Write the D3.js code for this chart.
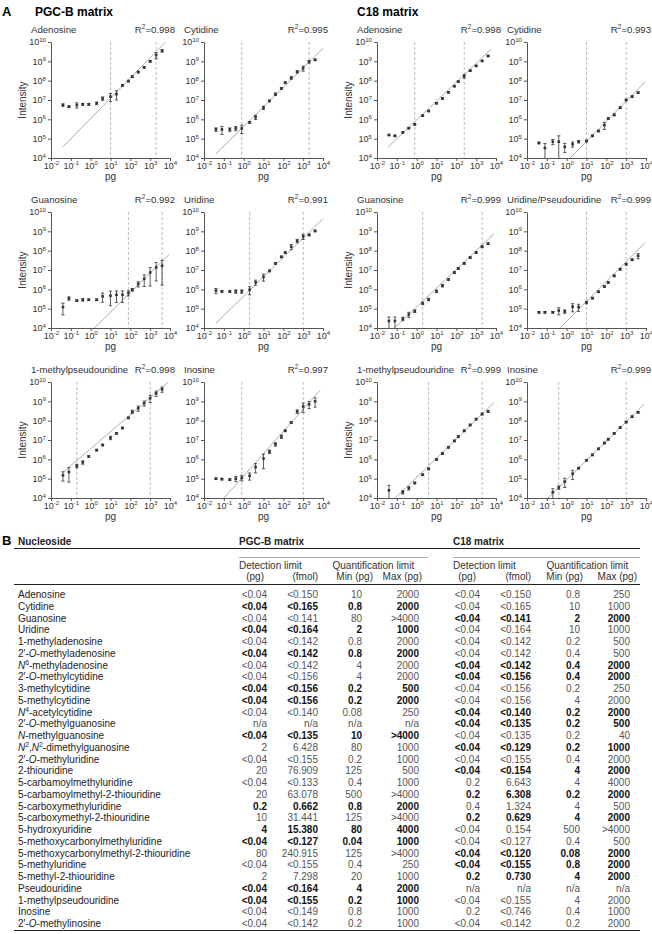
<!DOCTYPE html>
<html>
<head>
<meta charset="utf-8">
<script src="https://cdn.jsdelivr.net/npm/d3@7"></script>
<style>
  body { margin: 0; background: #fff; }
  svg { font-family: "Liberation Sans", Arial, sans-serif; }
</style>
</head>
<body>
<svg id="fig" width="652" height="934"></svg>
<script>
// ---------------- panel A data ----------------
// amount injected on column (pg)
var levels = [0.04, 0.08, 0.2, 0.4, 0.8, 2, 4, 10, 20, 40, 80, 125, 250, 500, 1000, 2000, 4000]

var panelNames = ["Adenosine", "Cytidine", "Adenosine", "Cytidine",
                  "Guanosine", "Uridine", "Guanosine", "Uridine/Pseudouridine",
                  "1-methylpseudouridine", "Inosine", "1-methylpseudouridine", "Inosine"]
var panelR2 = ["0.998", "0.995", "0.998", "0.993", "0.992", "0.991", "0.999", "0.999", "0.998", "0.997", "0.999", "0.999"]
// quantification limits (dashed lines), pg
var quantLimits = [[10, 2000], [0.8, 2000], [0.8, 250], [10, 1000],
                   [80, 4000], [2, 1000], [2, 2000], [10, 1000],
                   [0.2, 1000], [0.8, 1000], [4, 2000], [0.4, 1000]]
// regression line: log10(I) = fitA + fitB * log10(pg)
var fitA = [6.04, 5.63, 5.97, 3.82, 3.81, 5.65, 5.09, 4.35, 6.55, 5.14, 5.07, 4.94]
var fitB = [1.05, 1.01, 0.975, 1.04, 1.01, 1.0, 0.97, 1.03, 0.88, 1.15, 0.99, 1.0]
var fitRange = [[0.04, 7000], [0.04, 10000], [0.036, 5500], [1, 9000],
                [1, 9000], [0.04, 10000], [0.04, 8000], [0.5, 9000],
                [0.04, 8500], [0.04, 7200], [0.04, 8000], [0.04, 8000]]

// mean intensities per level, one array per panel
var intensity = [
  [5.5e6, 4.5e6, 5.5e6, 6e6, 6e6, 6.8e6, 1.2e7, 1.5e7, 2e7, 5.7e7, 9.5e7, 1.6e8, 2.8e8, 4.9e8, 1e9, 2.1e9, 3.5e9],
  [3e5, 3e5, 3e5, 3.4e5, 3.4e5, 7e5, 1.3e6, 4e6, 9e6, 2e7, 4e7, 8e7, 1.4e8, 2.9e8, 4.4e8, 9.5e8, 1.2e9],
  [1.55e5, 1.4e5, 2.1e5, 3.5e5, 5.5e5, 1.55e6, 2.7e6, 6.8e6, 1.2e7, 2.5e7, 5.2e7, 9e7, 1.7e8, 3.3e8, 5.8e8, 1.05e9, 1.9e9],
  [6e4, 3.3e4, 7e4, 7e4, 3.8e4, 5.2e4, 7e4, 7.6e4, 1.4e5, 2.5e5, 5e5, 1.1e6, 1.7e6, 4e6, 1e7, 1.5e7, 2.4e7],
  [1.2e5, 3.4e5, 2.6e5, 2.9e5, 2.9e5, 2.9e5, 4.3e5, 4.7e5, 5.2e5, 5.2e5, 6.5e5, 9.5e5, 1.9e6, 3.5e6, 7.4e6, 1.35e7, 1.65e7],
  [8.5e5, 7.8e5, 7.8e5, 7.8e5, 7.8e5, 9.5e5, 2.3e6, 4.4e6, 9e6, 2.2e7, 4.8e7, 8e7, 1.6e8, 3.2e8, 5.4e8, 6.5e8, 1.05e9],
  [2.3e4, 2.3e4, 3e4, 5e4, 7.4e4, 1.9e5, 3e5, 8e5, 1.55e6, 3.2e6, 7.4e6, 1.2e7, 2.2e7, 4.4e7, 8e7, 1.6e8, 2.3e8],
  [6.5e4, 6.5e4, 6.5e4, 8e4, 7.2e4, 1.25e5, 1.2e5, 2.1e5, 3.5e5, 7.5e5, 1.4e6, 2.3e6, 5e6, 1.1e7, 2e7, 3.4e7, 5.4e7],
  [1.5e5, 2.2e5, 4.5e5, 7e5, 1.4e6, 3e6, 5.5e6, 1.3e7, 2.2e7, 4.2e7, 1.4e8, 2.9e8, 4.4e8, 8e8, 1.45e9, 2.6e9, 4.2e9],
  [1e5, 9.5e4, 9e4, 1e5, 1.1e5, 1.4e5, 4e5, 1.1e6, 2.5e6, 6e6, 1.5e7, 3e7, 8e7, 3e8, 5.4e8, 7e8, 1e9],
  [2.5e4, null, 2e4, 3.2e4, 6e4, 1.6e5, 3.2e5, 1e6, 2e6, 4.2e6, 9e6, 1.5e7, 3e7, 6e7, 1.2e8, 2.2e8, 3e8],
  [null, null, 2e4, 3.5e4, 7e4, 1.8e5, 3.5e5, 9e5, 1.7e6, 3.5e6, 7e6, 1.1e7, 2.2e7, 4.4e7, 8.5e7, 1.6e8, 2.7e8]
]
// relative SD (error bars)
var relSD = [
  [0.15, 0.1, 0.3, 0.12, 0.12, 0.15, 0.2, 0.45, 0.5, 0.1, 0.1, 0.1, 0.1, 0.1, 0.1, 0.35, 0.15],
  [0.2, 0.45, 0.2, 0.25, 0.45, 0.1, 0.25, 0.2, 0.1, 0.15, 0.1, 0.1, 0.15, 0.15, 0.3, 0.15, 0.1],
  [0.08, 0.08, 0.08, 0.08, 0.08, 0.08, 0.08, 0.08, 0.08, 0.08, 0.08, 0.08, 0.2, 0.08, 0.08, 0.08, 0.08],
  [0.1, 0.7, 0.3, 1.0, 0.5, 0.3, 0.15, 0.1, 0.1, 0.1, 0.4, 0.1, 0.1, 0.1, 0.1, 0.1, 0.1],
  [0.6, 0.2, 0.1, 0.15, 0.1, 0.1, 0.5, 0.7, 0.6, 0.6, 0.3, 0.15, 0.3, 0.6, 0.8, 0.8, 0.9],
  [0.3, 0.1, 0.1, 0.2, 0.2, 0.45, 0.3, 0.4, 0.1, 0.1, 0.1, 0.1, 0.3, 0.2, 0.3, 0.1, 0.1],
  [0.6, 0.6, 0.2, 0.3, 0.15, 0.15, 0.15, 0.15, 0.15, 0.1, 0.1, 0.1, 0.1, 0.1, 0.1, 0.1, 0.1],
  [0.1, 0.1, 0.1, 0.4, 0.2, 0.45, 0.4, 0.15, 0.1, 0.1, 0.1, 0.1, 0.1, 0.1, 0.1, 0.1, 0.3],
  [0.5, 0.7, 0.2, 0.2, 0.1, 0.1, 0.1, 0.2, 0.1, 0.1, 0.1, 0.2, 0.3, 0.3, 0.4, 0.3, 0.3],
  [0.1, 0.1, 0.1, 0.3, 0.3, 0.4, 0.5, 0.7, 0.2, 0.2, 0.2, 0.1, 0.1, 0.2, 0.5, 0.4, 0.5],
  [0.8, 0, 0.2, 0.2, 0.1, 0.1, 0.1, 0.1, 0.1, 0.1, 0.1, 0.1, 0.1, 0.1, 0.1, 0.1, 0.1],
  [0, 0, 0.5, 0.2, 0.5, 0.5, 0.1, 0.1, 0.1, 0.1, 0.1, 0.1, 0.1, 0.1, 0.1, 0.1, 0.1]
]
var xTicks = [1e-2, 1e-1, 1e0, 1e1, 1e2, 1e3, 1e4]
var yTicks = [1e4, 1e5, 1e6, 1e7, 1e8, 1e9, 1e10]

// ---------------- panel B data ----------------
var nucleosides = ["Adenosine", "Cytidine", "Guanosine", "Uridine", "1-methyladenosine",
  "2\u2032-<i>O</i>-methyladenosine", "<i>N</i><sup>6</sup>-methyladenosine", "2\u2032-<i>O</i>-methylcytidine",
  "3-methylcytidine", "5-methylcytidine", "<i>N</i><sup>4</sup>-acetylcytidine", "2\u2032-<i>O</i>-methylguanosine",
  "<i>N</i>-methylguanosine", "<i>N</i><sup>2</sup>,<i>N</i><sup>2</sup>-dimethylguanosine", "2\u2032-<i>O</i>-methyluridine",
  "2-thiouridine", "5-carbamoylmethyluridine", "5-carbamoylmethyl-2-thiouridine", "5-carboxymethyluridine",
  "5-carboxymethyl-2-thiouridine", "5-hydroxyuridine", "5-methoxycarbonylmethyluridine",
  "5-methoxycarbonylmethyl-2-thiouridine", "5-methyluridine", "5-methyl-2-thiouridine", "Pseudouridine",
  "1-methylpseudouridine", "Inosine", "2\u2032-<i>O</i>-methylinosine"]
var pgcLodPg = ["<0.04","<0.04","<0.04","<0.04","<0.04","<0.04","<0.04","<0.04","<0.04","<0.04","<0.04","n/a","<0.04","2","<0.04","20","<0.04","20","0.2","10","4","<0.04","80","<0.04","2","<0.04","<0.04","<0.04","<0.04"]
var pgcLodFmol = ["<0.150","<0.165","<0.141","<0.164","<0.142","<0.142","<0.142","<0.156","<0.156","<0.156","<0.140","n/a","<0.135","6.428","<0.155","76.909","<0.133","63.078","0.662","31.441","15.380","<0.127","240.915","<0.155","7.298","<0.164","<0.155","<0.149","<0.142"]
var pgcLoqMin = ["10","0.8","80","2","0.8","0.8","4","4","0.2","0.2","0.08","n/a","10","80","0.2","125","0.4","500","0.8","125","80","0.04","125","0.4","20","4","0.2","0.8","0.2"]
var pgcLoqMax = ["2000","2000",">4000","1000","2000","2000","2000","2000","500","2000","250","n/a",">4000","1000","1000","500","1000",">4000","2000",">4000","4000","1000",">4000","250","1000","2000","1000","1000","1000"]
var c18LodPg = ["<0.04","<0.04","<0.04","<0.04","<0.04","<0.04","<0.04","<0.04","<0.04","<0.04","<0.04","<0.04","<0.04","<0.04","<0.04","<0.04","0.2","0.2","0.4","0.2","<0.04","<0.04","<0.04","<0.04","0.2","n/a","<0.04","0.2","<0.04"]
var c18LodFmol = ["<0.150","<0.165","<0.141","<0.164","<0.142","<0.142","<0.142","<0.156","<0.156","<0.156","<0.140","<0.135","<0.135","<0.129","<0.155","<0.154","6.643","6.308","1.324","0.629","0.154","<0.127","<0.120","<0.155","0.730","n/a","<0.155","<0.746","<0.142"]
var c18LoqMin = ["0.8","10","2","10","0.2","0.4","0.4","0.4","0.2","4","0.2","0.2","0.2","0.2","0.4","4","4","0.2","4","4","500","0.4","0.08","0.8","4","n/a","4","0.4","0.2"]
var c18LoqMax = ["250","1000","2000","1000","500","500","2000","2000","250","2000","2000","500","40","1000","2000","2000","4000","2000","500","2000",">4000","500","2000","2000","2000","n/a","2000","1000","2000"]
// which matrix is printed in bold: P = PGC-B, C = C18
var betterMatrix = ["","P","C","P","","P","C","C","P","P","C","C","P","C","","C","","C","P","C","P","P","C","C","C","P","P","",""]

// ---------------- helpers ----------------
var svg = d3.select("#fig")

function richText(sel, str, size) {
  var parts = str.split(/(<i>.*?<\/i>|<sup>.*?<\/sup>)/).filter(function(s) { return s.length })
  var back = 0
  parts.forEach(function(p) {
    var t = sel.append("tspan")
    if (p.indexOf("<sup>") == 0) {
      back = size * 0.38
      t.attr("font-size", size * 0.68).attr("dy", -back).text(p.slice(5, -6))
      return
    }
    if (p.indexOf("<i>") == 0) t.attr("font-style", "italic").text(p.slice(3, -4))
    else t.text(p)
    if (back) { t.attr("dy", back); back = 0 }
  })
}

function expLabel(v) { return "10<sup>" + Math.round(Math.log10(v)) + "</sup>" }

// ---------------- panel A ----------------
svg.append("text").attr("x", 2).attr("y", 16).attr("font-size", 13).attr("font-weight", "bold").text("A")
svg.append("text").attr("x", 35).attr("y", 16).attr("font-size", 12).attr("font-weight", "bold").text("PGC-B matrix")
svg.append("text").attr("x", 357).attr("y", 16).attr("font-size", 12).attr("font-weight", "bold").text("C18 matrix")

var colX = [51, 204, 377, 527], rowY = [42, 212, 382]
var plotW = 119, plotH = 116
var ink = "#333", axisInk = "#555"

panelNames.forEach(function(name, i) {
  var col = i % 4, row = Math.floor(i / 4)
  var g = svg.append("g").attr("transform", "translate(" + colX[col] + "," + rowY[row] + ")")
  var x = d3.scaleLog().domain([1e-2, 1e4]).range([0, plotW])
  var y = d3.scaleLog().domain([1e4, 1e10]).range([plotH, 0])

  g.append("clipPath").attr("id", "clip" + i)
    .append("rect").attr("x", 0).attr("y", 0).attr("width", plotW + 2).attr("height", plotH)

  // titles
  g.append("text").attr("x", -20).attr("y", -9).attr("font-size", 9.6).attr("fill", ink).text(name)
  var r2 = g.append("text").attr("x", 124).attr("y", -9).attr("font-size", 9.6).attr("fill", ink)
    .attr("text-anchor", "end")
  richText(r2, "R<sup>2</sup>=" + panelR2[i], 9.6)

  // dashed quantification limits
  g.selectAll(".qlim").data(quantLimits[i]).enter().append("line")
    .attr("x1", function(d) { return x(d) }).attr("x2", function(d) { return x(d) })
    .attr("y1", 0).attr("y2", plotH)
    .attr("stroke", "#aaa").attr("stroke-width", 0.8).attr("stroke-dasharray", "3,2")

  // regression line
  var fx = fitRange[i]
  g.append("line").attr("clip-path", "url(#clip" + i + ")")
    .attr("x1", x(fx[0])).attr("y1", y(Math.pow(10, fitA[i] + fitB[i] * Math.log10(fx[0]))))
    .attr("x2", x(fx[1])).attr("y2", y(Math.pow(10, fitA[i] + fitB[i] * Math.log10(fx[1]))))
    .attr("stroke", "#999").attr("stroke-width", 0.8)

  // axes
  var ya = g.append("g").call(d3.axisLeft(y).tickValues(yTicks).tickSize(3).tickSizeOuter(0).tickPadding(2))
  var xa = g.append("g").attr("transform", "translate(0," + plotH + ")")
    .call(d3.axisBottom(x).tickValues(xTicks).tickSize(3).tickSizeOuter(0).tickPadding(1.5))
  ;[ya, xa].forEach(function(a) {
    a.attr("font-family", null).attr("font-size", 9)
    a.select(".domain").attr("stroke", axisInk)
    a.selectAll(".tick line").attr("stroke", axisInk)
    a.selectAll(".tick text").attr("fill", ink).each(function(d) {
      var t = d3.select(this)
      t.text(null)
      richText(t, expLabel(d), 9)
    })
  })

  // axis titles
  g.append("text").attr("x", plotW / 2).attr("y", plotH + 21.5).attr("text-anchor", "middle")
    .attr("font-size", 10).attr("fill", ink).text("pg")
  if (col % 2 == 0) {
    g.append("text").attr("transform", "translate(-25," + plotH / 2 + ") rotate(-90)")
      .attr("text-anchor", "middle").attr("font-size", 10).attr("fill", ink).text("Intensity")
  }

  // points with error bars
  var pts = levels.map(function(l, k) { return {x: l, v: intensity[i][k], sd: relSD[i][k]} })
    .filter(function(d) { return d.v != null })
  var pg = g.append("g")
  pts.forEach(function(d) {
    var cx = x(d.x)
    if (d.sd > 0) {
      var lo = d.v * (1 - d.sd), hi = d.v * (1 + d.sd)
      var y0 = lo <= 1e4 ? plotH : y(lo), y1 = y(hi)
      pg.append("line").attr("x1", cx).attr("x2", cx).attr("y1", y0).attr("y2", y1)
        .attr("stroke", ink).attr("stroke-width", 0.8)
      pg.append("line").attr("x1", cx - 1.6).attr("x2", cx + 1.6).attr("y1", y1).attr("y2", y1)
        .attr("stroke", ink).attr("stroke-width", 0.8)
      if (lo > 1e4)
        pg.append("line").attr("x1", cx - 1.6).attr("x2", cx + 1.6).attr("y1", y0).attr("y2", y0)
          .attr("stroke", ink).attr("stroke-width", 0.8)
    }
    pg.append("rect").attr("x", cx - 1.3).attr("y", y(d.v) - 1.3).attr("width", 2.6).attr("height", 2.6)
      .attr("fill", ink)
  })
})

// ---------------- panel B (table) ----------------
var tLeft = 14, tRight = 640
var valRight = [267, 318, 362, 419, 480, 531, 580, 630]
var groupLeft = [239, 453], groupRight = [428, 640]
var hdrRight = [264, 318, 373, 422, 476, 531, 583, 637]
var rowBase0 = 598, rowStep = 11.75
var fs = 10

svg.append("text").attr("x", 2).attr("y", 545).attr("font-size", 13).attr("font-weight", "bold").text("B")
svg.append("text").attr("x", 18).attr("y", 545).attr("font-size", fs).attr("font-weight", "bold").attr("fill", "#222").text("Nucleoside")
svg.append("text").attr("x", groupLeft[0]).attr("y", 545).attr("font-size", fs).attr("font-weight", "bold").attr("fill", "#222").text("PGC-B matrix")
svg.append("text").attr("x", groupLeft[1]).attr("y", 545).attr("font-size", fs).attr("font-weight", "bold").attr("fill", "#222").text("C18 matrix")

svg.append("line").attr("x1", tLeft).attr("x2", tRight).attr("y1", 548.5).attr("y2", 548.5).attr("stroke", "#222").attr("stroke-width", 1)
groupLeft.forEach(function(gl, k) {
  svg.append("line").attr("x1", gl).attr("x2", groupRight[k]).attr("y1", 557.5).attr("y2", 557.5)
    .attr("stroke", "#aaa").attr("stroke-width", 1)
  svg.append("text").attr("x", gl).attr("y", 569).attr("font-size", fs).attr("fill", "#333").text("Detection limit")
  svg.append("text").attr("x", gl + 93.5).attr("y", 569).attr("font-size", fs).attr("fill", "#333").text("Quantification limit")
})
var subHdr = ["(pg)", "(fmol)", "Min (pg)", "Max (pg)", "(pg)", "(fmol)", "Min (pg)", "Max (pg)"]
subHdr.forEach(function(h, k) {
  svg.append("text").attr("x", hdrRight[k]).attr("y", 580).attr("text-anchor", "end")
    .attr("font-size", fs).attr("fill", "#333").text(h)
})
svg.append("line").attr("x1", tLeft).attr("x2", tRight).attr("y1", 584.5).attr("y2", 584.5).attr("stroke", "#222").attr("stroke-width", 1)

var cols = [pgcLodPg, pgcLodFmol, pgcLoqMin, pgcLoqMax, c18LodPg, c18LodFmol, c18LoqMin, c18LoqMax]
nucleosides.forEach(function(n, r) {
  var yb = rowBase0 + r * rowStep
  var t = svg.append("text").attr("x", 18).attr("y", yb).attr("font-size", fs).attr("fill", "#222")
  richText(t, n, fs)
  cols.forEach(function(c, k) {
    var bold = (k < 4 && betterMatrix[r] == "P") || (k >= 4 && betterMatrix[r] == "C")
    svg.append("text").attr("x", valRight[k]).attr("y", yb).attr("text-anchor", "end")
      .attr("font-size", fs).attr("font-weight", bold ? "bold" : null)
      .attr("fill", bold ? "#111" : "#555").text(c[r])
  })
})
svg.append("line").attr("x1", tLeft).attr("x2", tRight).attr("y1", 930.5).attr("y2", 930.5).attr("stroke", "#222").attr("stroke-width", 1)
</script>
</body>
</html>
